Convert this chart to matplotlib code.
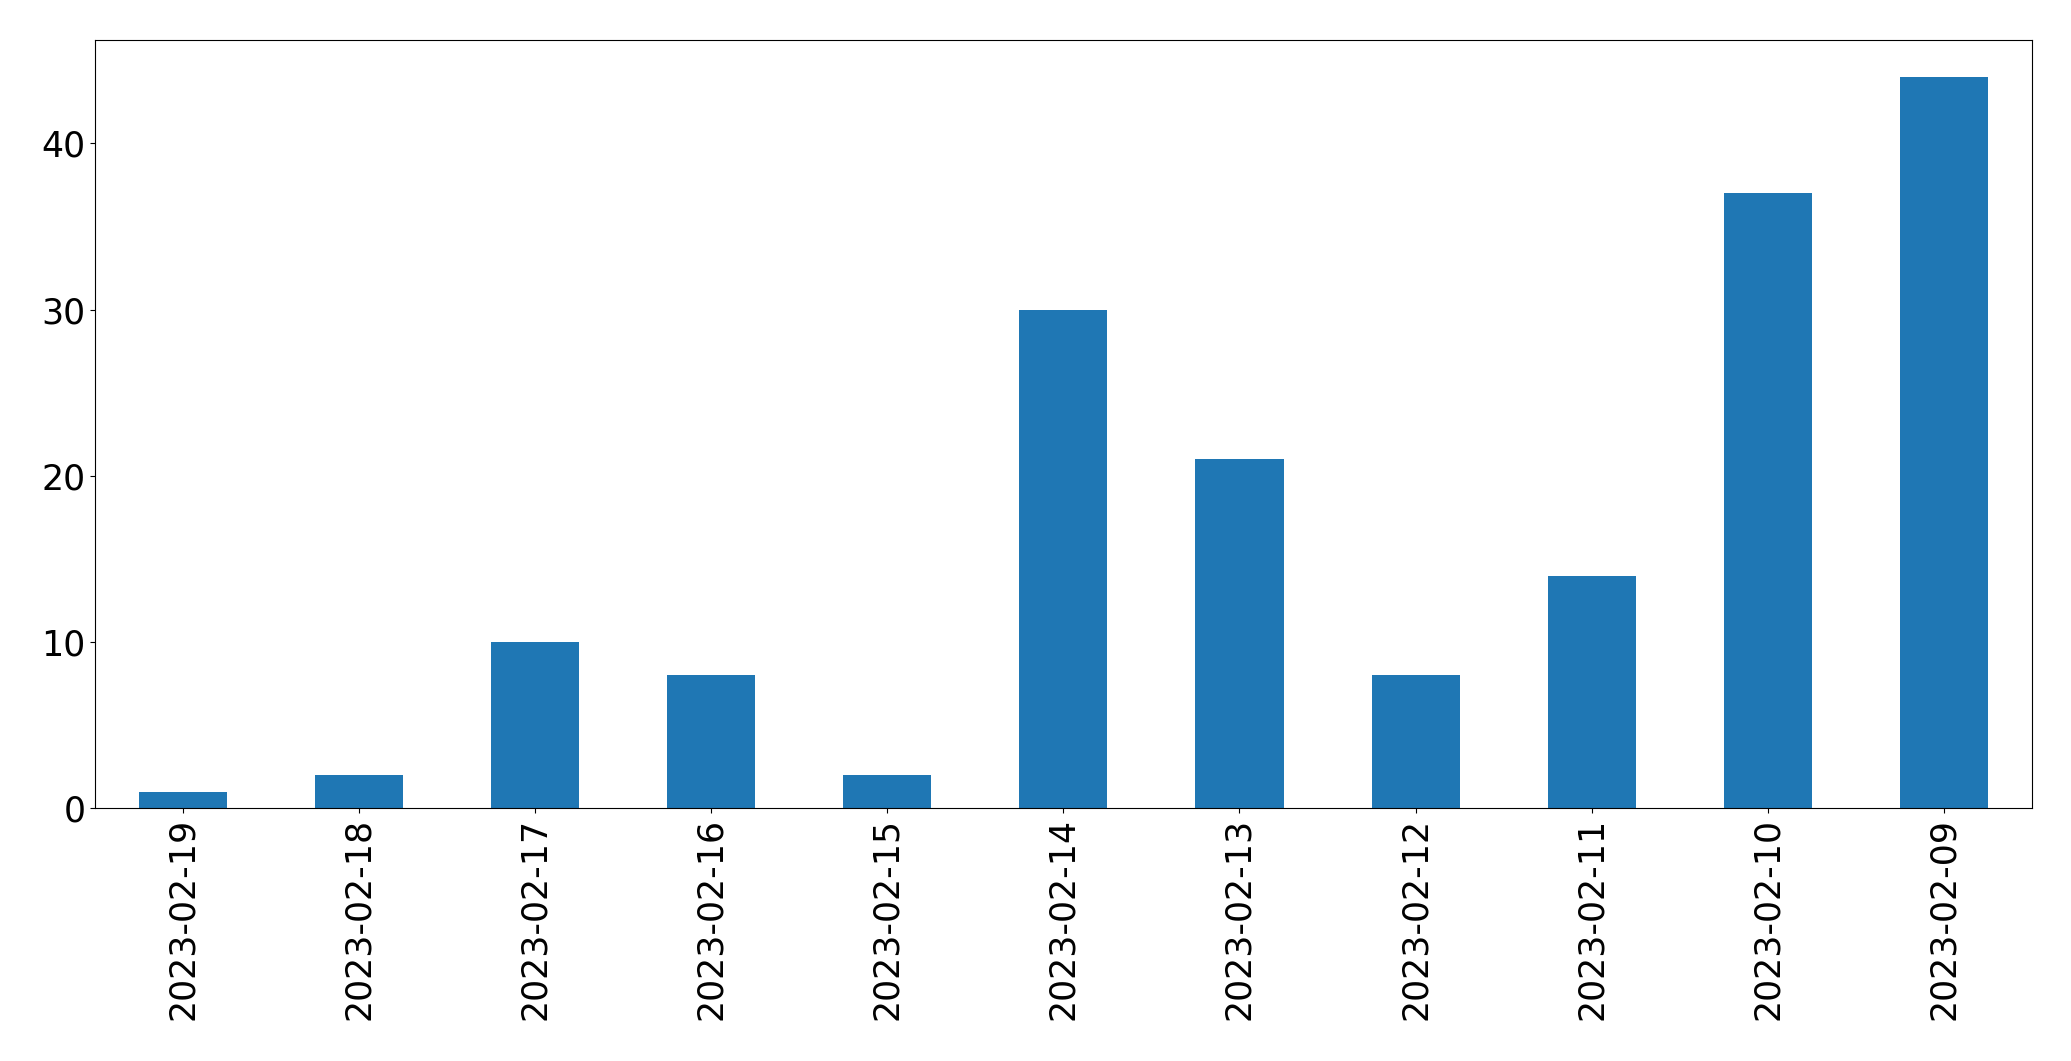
import matplotlib
matplotlib.use("Agg")
import matplotlib.pyplot as plt
import numpy as np

dates = ["2023-02-19", "2023-02-18", "2023-02-17", "2023-02-16", "2023-02-15",
         "2023-02-14", "2023-02-13", "2023-02-12", "2023-02-11", "2023-02-10",
         "2023-02-09"]
counts = [1, 2, 10, 8, 2, 30, 21, 8, 14, 37, 44]

fig, ax = plt.subplots(figsize=(20.71, 10.61), dpi=100)
x = np.arange(len(dates))
ax.bar(x, counts, width=0.5, color="#1f77b4")
ax.set_xlim(-0.5, len(dates) - 0.5)
ax.set_xticks(x)
ax.set_xticklabels(dates, rotation=90)
ax.tick_params(labelsize=25)
ax.set_yticks([0, 10, 20, 30, 40])
fig.subplots_adjust(left=0.046, right=0.981, top=0.962, bottom=0.238)
fig.savefig("out.png", dpi=100)
